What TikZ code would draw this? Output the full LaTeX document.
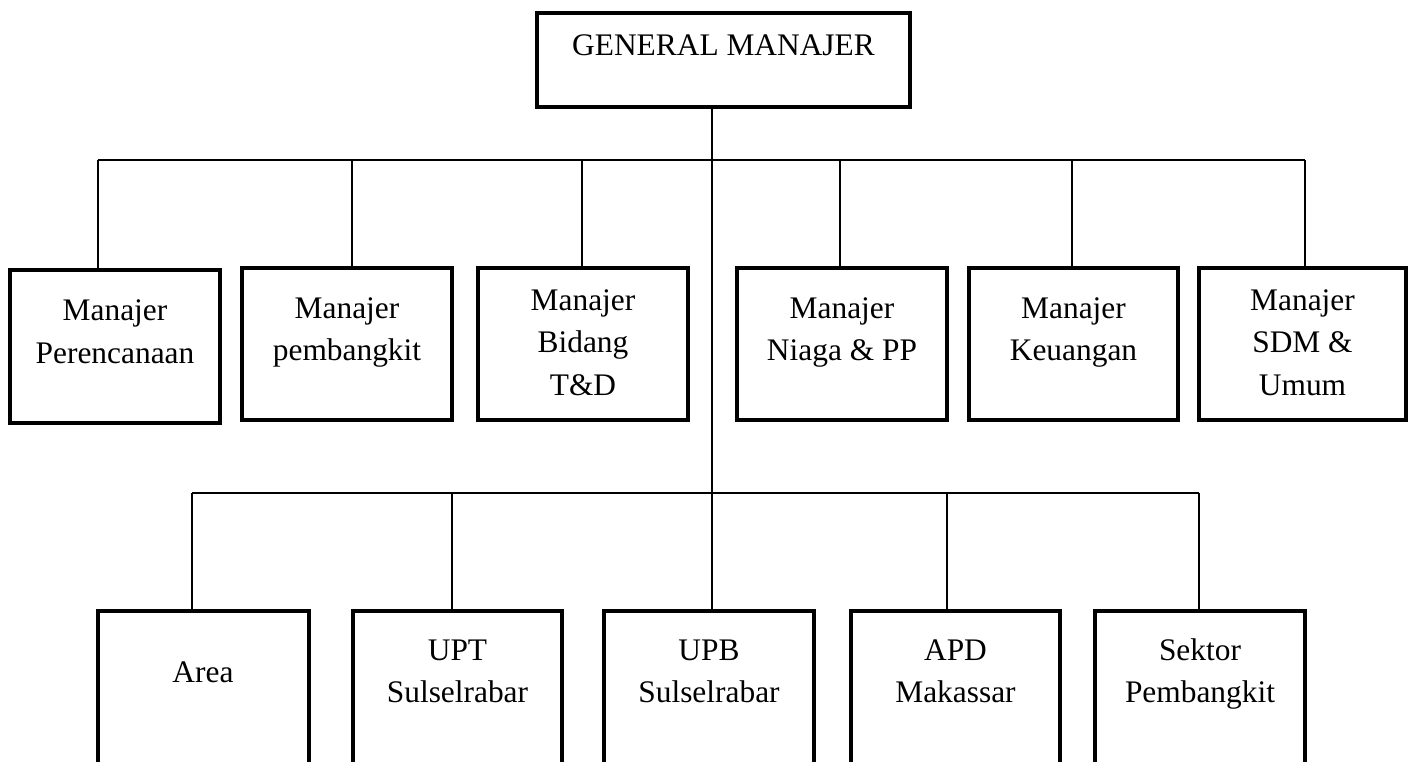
\documentclass[tikz,border=0pt]{standalone}
\usepackage{fontspec}
\setmainfont{Liberation Serif}
\begin{document}
\begin{tikzpicture}[x=0.5pt,y=-0.5pt,
  box/.style={draw=black,line width=2pt,rectangle,inner sep=0pt,fill=white},
  lbl/.style={anchor=base,inner sep=0pt,font=\fontsize{15.7pt}{20pt}\selectfont},
  conn/.style={draw=black,line width=1pt}]
\useasboundingbox (0,0) rectangle (1408,761);
\clip (0,0) rectangle (1408,761);
% boxes
\node[box,minimum width=186.5pt,minimum height=47pt] (gm) at (723.5,60) {};
\node[box,minimum width=105pt,minimum height=76.5pt] (b1) at (115,346.5) {};
\node[box,minimum width=105pt,minimum height=76pt] (b2) at (347,344) {};
\node[box,minimum width=105pt,minimum height=76pt] (b3) at (583,344) {};
\node[box,minimum width=105pt,minimum height=76pt] (b4) at (842,344) {};
\node[box,minimum width=104.5pt,minimum height=76pt] (b5) at (1073.5,344) {};
\node[box,minimum width=103.5pt,minimum height=76pt] (b6) at (1302.5,344) {};
\node[box,minimum width=105.5pt,minimum height=82pt] (area) at (203,693) {};
\node[box,minimum width=104.5pt,minimum height=82pt] (upt) at (457.5,693) {};
\node[box,minimum width=105pt,minimum height=82pt] (upb) at (709,693) {};
\node[box,minimum width=104.5pt,minimum height=82pt] (apd) at (955.5,693) {};
\node[box,minimum width=105pt,minimum height=82pt] (sek) at (1200,693) {};
% texts
\node[lbl] (gmt) at (723.5,55) {GENERAL MANAJER};
\node[lbl] (b1a) at (115,320) {Manajer};
\node[lbl] (b1b) at (115,363) {Perencanaan};
\node[lbl] (b2a) at (347,318) {Manajer};
\node[lbl] (b2b) at (347,360) {pembangkit};
\node[lbl] (b3a) at (583,310) {Manajer};
\node[lbl] (b3b) at (583,352) {Bidang};
\node[lbl] (b3c) at (583,395) {T\&D};
\node[lbl] (b4a) at (842,318) {Manajer};
\node[lbl] (b4b) at (842,360) {Niaga \& PP};
\node[lbl] (b5a) at (1073.5,318) {Manajer};
\node[lbl] (b5b) at (1073.5,360) {Keuangan};
\node[lbl] (b6a) at (1302.5,310) {Manajer};
\node[lbl] (b6b) at (1302.5,352) {SDM \&};
\node[lbl] (b6c) at (1302.5,395) {Umum};
\node[lbl] (areat) at (203,682) {Area};
\node[lbl] (upta) at (457.5,660) {UPT};
\node[lbl] (uptb) at (457.5,702) {Sulselrabar};
\node[lbl] (upba) at (709,660) {UPB};
\node[lbl] (upbb) at (709,702) {Sulselrabar};
\node[lbl] (apda) at (955.5,660) {APD};
\node[lbl] (apdb) at (955.5,702) {Makassar};
\node[lbl] (seka) at (1200,660) {Sektor};
\node[lbl] (sekb) at (1200,702) {Pembangkit};
% connector coordinates
\coordinate (trunk) at (712,160);
\coordinate (u1) at (98,160);
\coordinate (u2) at (352,160);
\coordinate (u3) at (582,160);
\coordinate (u4) at (840,160);
\coordinate (u5) at (1072,160);
\coordinate (u6) at (1305,160);
\coordinate (d1) at (192,493);
\coordinate (d2) at (452,493);
\coordinate (d4) at (947,493);
\coordinate (d5) at (1199,493);
% connectors
\draw[conn] (trunk |- gm.south) -- (trunk |- upb.north);
\draw[conn] (u1) -- (u6);
\draw[conn] (u1) -- (u1 |- b1.north);
\draw[conn] (u2) -- (u2 |- b2.north);
\draw[conn] (u3) -- (u3 |- b3.north);
\draw[conn] (u4) -- (u4 |- b4.north);
\draw[conn] (u5) -- (u5 |- b5.north);
\draw[conn] (u6) -- (u6 |- b6.north);
\draw[conn] (d1) -- (d5);
\draw[conn] (d1) -- (d1 |- area.north);
\draw[conn] (d2) -- (d2 |- upt.north);
\draw[conn] (d4) -- (d4 |- apd.north);
\draw[conn] (d5) -- (d5 |- sek.north);
\end{tikzpicture}
\end{document}
